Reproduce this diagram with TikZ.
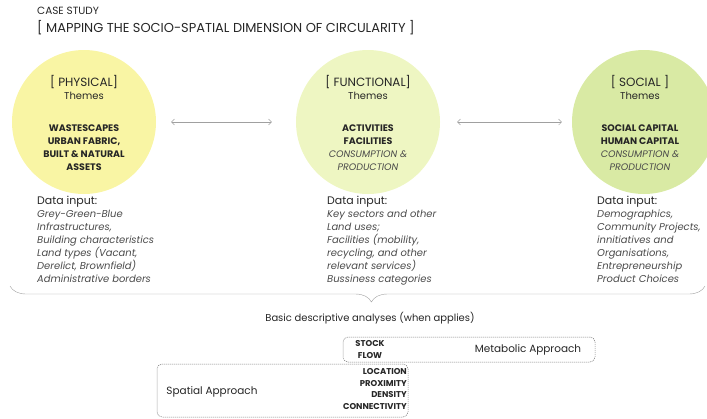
\documentclass[tikz,border=0pt]{standalone}
\usepackage{fontspec}
\setmainfont{Poppins}
\usetikzlibrary{positioning,arrows.meta,decorations.pathreplacing}

\definecolor{physfill}{HTML}{F9F5A4}
\definecolor{funcfill}{HTML}{EEF6C2}
\definecolor{socfill}{HTML}{D9EAA4}
\definecolor{txt}{HTML}{262626}
\definecolor{soft}{HTML}{4A4A4A}
\definecolor{linegray}{HTML}{A0A0A0}

\tikzset{
  theme/.style={circle, minimum size=144bp, inner sep=0pt},
  themetext/.style={anchor=north, inner sep=0pt, align=center,
    font=\fontsize{9.5}{13}\selectfont\color{txt}},
  datain/.style={anchor=north west, align=left, inner sep=0pt,
    font=\fontsize{10}{13}\selectfont\color{txt}},
  approach/.style={draw=linegray!80!black, dash pattern=on 1.2bp off 0.8bp, rounded corners=5bp,
    inner sep=0pt, line width=0.5bp},
  link/.style={{Straight Barb[length=3bp]}-{Straight Barb[length=3bp]}, draw=linegray, thin},
  keyword/.style={font=\fontsize{8.5}{12}\selectfont\bfseries\color{txt}, inner sep=0pt}
}
\newcommand{\ital}[1]{{\itshape\color{soft}#1}}
\newcommand{\datahead}{{\fontsize{11}{13}\selectfont Data input:}}

\begin{document}
\begin{tikzpicture}[x=1bp, y=-1bp]
    \useasboundingbox (0,0) rectangle (707,418);

    % title
    \node[anchor=west, inner sep=0pt, font=\fontsize{10.5}{12}\selectfont\color{txt}] (case) at (37,11) {CASE STUDY};
    \node[anchor=west, inner sep=0pt, font=\fontsize{13}{15}\selectfont\color{txt}] (title) at (37,28) {[ MAPPING THE SOCIO-SPATIAL DIMENSION OF CIRCULARITY ]};

    % the three dimensions
    \node[theme, fill=physfill] (phys) at (84,122) {};
    \node[theme, fill=funcfill] (func) at (368,122) {};
    \node[theme, fill=socfill] (soc) at (644,122) {};

    \node[themetext] (physhead) at (84,75) {{\fontsize{12}{18}\selectfont [ PHYSICAL]}\\ {\fontsize{10}{13}\selectfont Themes}\\[19bp]
        \textbf{WASTESCAPES}\\ \textbf{URBAN FABRIC,}\\ \textbf{BUILT \& NATURAL}\\ \textbf{ASSETS}};
    \node[themetext] (funchead) at (368,75) {{\fontsize{12}{18}\selectfont [ FUNCTIONAL]}\\ {\fontsize{10}{13}\selectfont Themes}\\[19bp]
        \textbf{ACTIVITIES}\\ \textbf{FACILITIES}\\ \ital{CONSUMPTION \&}\\ \ital{PRODUCTION}};
    \node[themetext] (sochead) at (640,75) {{\fontsize{12}{18}\selectfont [ SOCIAL ]}\\ {\fontsize{10}{13}\selectfont Themes}\\[19bp]
        \textbf{SOCIAL CAPITAL}\\ \textbf{HUMAN CAPITAL}\\ \ital{CONSUMPTION \&}\\ \ital{PRODUCTION}};

    \draw[link, shorten <=15bp, shorten >=24bp] (phys) -- (func);
    \draw[link, shorten <=17bp, shorten >=10bp] (func) -- (soc);

    % data inputs
    \node[datain] (physdata) at (37,196) {\datahead\\ \ital{Grey-Green-Blue}\\ \ital{Infrastructures,}\\ \ital{Building characteristics}\\
        \ital{Land types (Vacant,}\\ \ital{Derelict, Brownfield)}\\ \ital{Administrative borders}};
    \node[datain] (funcdata) at (327,196) {\datahead\\ \ital{Key sectors and other}\\ \ital{Land uses;}\\ \ital{Facilities (mobility,}\\
        \ital{recycling, and other}\\ \ital{relevant services)}\\ \ital{Bussiness categories}};
    \node[datain] (socdata) at (597,196) {\datahead\\ \ital{Demographics,}\\ \ital{Community Projects,}\\ \ital{innitiatives and}\\
        \ital{Organisations,}\\ \ital{Entrepreneurship}\\ \ital{Product Choices}};

    % brace
    \coordinate (brL) at (10,286);
    \coordinate (brR) at (705,286);
    \draw[linegray, decorate, decoration={brace, mirror, amplitude=16bp, aspect=0.52}] (brL) -- (brR);

    \node[font=\fontsize{10}{12}\selectfont\color{txt}, inner sep=0pt] (basic) at (370,318) {Basic descriptive analyses (when applies)};

    % approaches
    \node[approach, minimum width=252bp, minimum height=25bp] (metab) at (469,349.5) {};
    \node[keyword, align=center] (stock) at (370,349.5) {STOCK\\ FLOW};
    \node[font=\fontsize{10.5}{12}\selectfont\color{txt}, inner sep=0pt] (metabtxt) at (528,350) {Metabolic Approach};

    \node[approach, minimum width=251bp, minimum height=53bp] (spat) at (282.5,390.5) {};
    \node[keyword, align=right, anchor=east] (loc) at (407,389) {LOCATION\\ PROXIMITY\\ DENSITY\\ CONNECTIVITY};
    \node[font=\fontsize{10.5}{12}\selectfont\color{txt}, inner sep=0pt] (spattxt) at (212,392) {Spatial Approach};
\end{tikzpicture}
\end{document}
